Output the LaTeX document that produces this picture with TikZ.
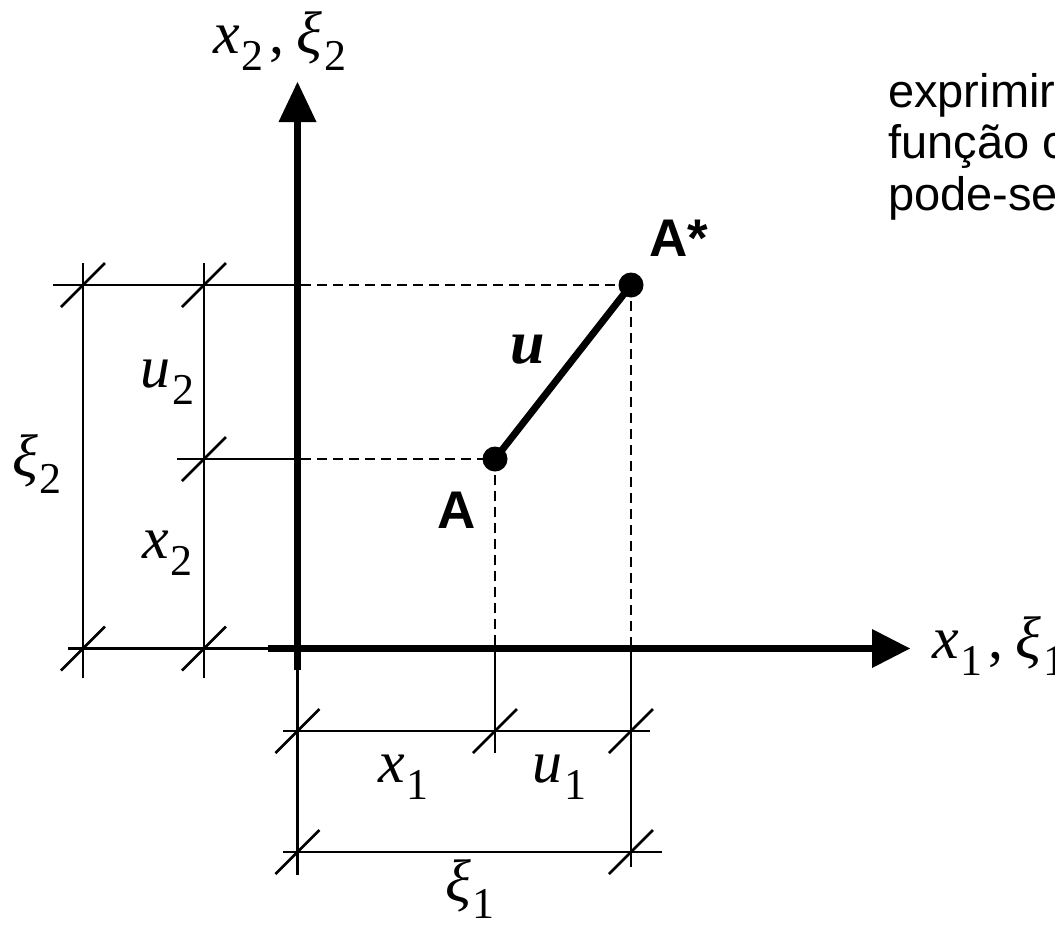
\documentclass[tikz,border=0pt]{standalone}
\usepackage{fontspec}
\setmainfont{Liberation Serif}
\newfontfamily\sansf{Liberation Sans}
\newcommand{\sublab}[2]{{\fontsize{60}{64}\selectfont\itshape #1}\kern2pt{\fontsize{44}{48}\selectfont\raisebox{-17pt}{#2}}}
\begin{document}
\begin{tikzpicture}[x=1pt,y=-1pt,
  thinln/.style={line width=2.8pt},
  dashln/.style={line width=2.8pt, dash pattern=on 10pt off 6pt},
  axisln/.style={line width=7pt},
  vecln/.style={line width=7pt},
  lab/.style={inner sep=0pt, anchor=base west},
  ptlab/.style={inner sep=0pt, anchor=base west, font=\sansf\bfseries\fontsize{53}{56}\selectfont},
  txt/.style={inner sep=0pt, anchor=base west, font=\sansf\fontsize{47}{52}\selectfont},
  dot/.style={circle, fill=black, inner sep=0pt, minimum size=25pt}]
\useasboundingbox (0,0) rectangle (1055,924);
\newcommand{\tick}[1]{\draw[thinln] ([shift={(-22,22)}]#1) -- ([shift={(22,-22)}]#1);}
% key coordinates
\coordinate (O) at (297.5,648.5);
\coordinate (Ybot) at (297.5,670);
\coordinate (Ybase) at (297.5,122);
\coordinate (Ytip) at (297.5,82);
\coordinate (Xleft) at (268,648.5);
\coordinate (Xbase) at (874,648.5);
\coordinate (Xtip) at (910,648.5);
\coordinate (Ac) at (495,459);
\coordinate (Asc) at (631,285);
\coordinate (Ay) at (301,459);
\coordinate (Asy) at (301,285);
\coordinate (Ax) at (495,648.5);
\coordinate (Asx) at (631,648.5);
% left dimension coordinates
\coordinate (L1a) at (53,285);
\coordinate (L2a) at (177,459);
\coordinate (L3a) at (68,648.5);
\coordinate (V1t) at (83,263);
\coordinate (V1b) at (83,678);
\coordinate (V2t) at (204,263);
\coordinate (V2b) at (204,678);
\coordinate (T11) at (83,285);
\coordinate (T12) at (204,285);
\coordinate (T22) at (204,459);
\coordinate (T31) at (83,648.5);
\coordinate (T32) at (204,648.5);
% bottom dimension coordinates
\coordinate (B0b) at (297.5,875);
\coordinate (B1b) at (495,753);
\coordinate (B2b) at (631,867);
\coordinate (H1a) at (283,731);
\coordinate (H1b) at (650,731);
\coordinate (H2a) at (283,852);
\coordinate (H2b) at (662,852);
\coordinate (S10) at (297.5,731);
\coordinate (S11) at (495,731);
\coordinate (S12) at (631,731);
\coordinate (S20) at (297.5,852);
\coordinate (S22) at (631,852);

% dimension lines (left)
\draw[thinln] (L1a) -- (Asy);
\draw[thinln] (L2a) -- (Ay);
\draw[thinln] (L3a) -- (Xleft);
\draw[thinln] (V1t) -- (V1b);
\draw[thinln] (V2t) -- (V2b);
\tick{T11} \tick{T12} \tick{T22} \tick{T31} \tick{T32}
% dimension lines (bottom)
\draw[thinln] (Ybot) -- (B0b);
\draw[thinln] (Ax) -- (B1b);
\draw[thinln] (Asx) -- (B2b);
\draw[thinln] (H1a) -- (H1b);
\draw[thinln] (H2a) -- (H2b);
\tick{S10} \tick{S11} \tick{S12} \tick{S20} \tick{S22}

% dashed projections
\draw[dashln] (Asy) -- (Asc);
\draw[dashln] (Asc) -- (Asx);
\draw[dashln] (Ay) -- (Ac);
\draw[dashln] (Ac) -- (Ax);

% axes
\draw[axisln] (Ybot) -- (Ybase);
\fill (Ytip) -- ++(-19,40) -- ++(38,0) -- cycle;
\draw[axisln] (Xleft) -- (Xbase);
\fill (Xtip) -- ++(-38,-19.5) -- ++(0,39) -- cycle;

% vector u
\draw[vecln] (Ac) -- (Asc);
\node[dot] (A) at (Ac) {};
\node[dot] (As) at (Asc) {};

% labels
\node[ptlab] (lA) at (437,528) {A};
\node[ptlab] (lAs) at (649,256) {A*};
\node[lab] (lu) at (510,363) {\fontsize{62}{64}\selectfont\bfseries\itshape u};
\node[lab] (lx2xi2) at (213,53) {\sublab{x}{2}\kern6pt{\fontsize{60}{64}\selectfont,}\kern12pt\sublab{ξ}{2}};
\node[lab] (lx1xi1) at (932,658) {\sublab{x}{1}\kern6pt{\fontsize{60}{64}\selectfont,}\kern12pt\sublab{ξ}{1}};
\node[lab] (lu2) at (140,387) {\sublab{u}{2}};
\node[lab] (lx2) at (142,558) {\sublab{x}{2}};
\node[lab] (lxi2) at (12,476) {\sublab{ξ}{2}};
\node[lab] (lx1) at (378,782) {\sublab{x}{1}};
\node[lab] (lu1) at (532,782) {\sublab{u}{1}};
\node[lab] (lxi1) at (445,901) {\sublab{ξ}{1}};

% text on the right
\node[txt] (t1) at (888,107) {exprimir};
\node[txt] (t2) at (888,158.5) {função c};
\node[txt] (t3) at (888,210) {pode-se};
\end{tikzpicture}
\end{document}
